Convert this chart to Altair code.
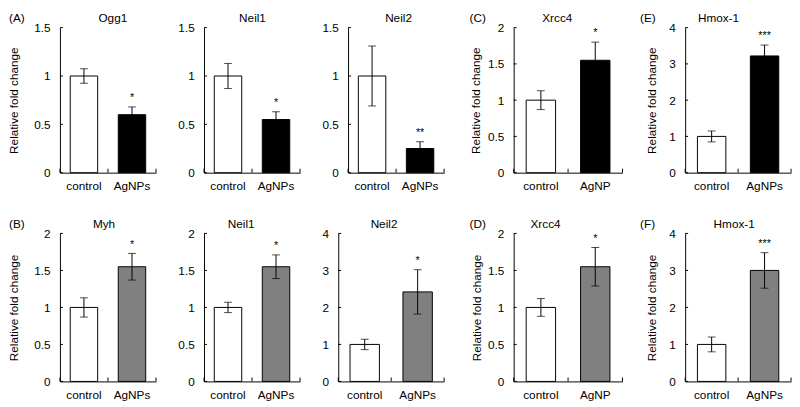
import altair as alt
import pandas as pd

FONT = "Liberation Sans"

# ---------------- data ----------------
genes = ["Ogg1", "Neil1", "Neil2", "Xrcc4", "Hmox-1",
         "Myh", "Neil1", "Neil2", "Xrcc4", "Hmox-1"]
panel_tags = ["(A)", "", "", "(C)", "(E)", "(B)", "", "", "(D)", "(F)"]
control_label = "control"
treat_labels = ["AgNPs", "AgNPs", "AgNPs", "AgNP", "AgNPs",
                "AgNPs", "AgNPs", "AgNPs", "AgNP", "AgNPs"]
control_mean = [1.0, 1.0, 1.0, 1.0, 1.0, 1.0, 1.0, 1.0, 1.0, 1.0]
control_err = [0.075, 0.13, 0.31, 0.13, 0.15, 0.13, 0.07, 0.14, 0.12, 0.20]
treat_mean = [0.60, 0.55, 0.25, 1.55, 3.22, 1.55, 1.55, 2.42, 1.55, 3.00]
treat_err = [0.08, 0.08, 0.07, 0.25, 0.30, 0.18, 0.16, 0.60, 0.26, 0.48]
stars = ["*", "*", "**", "*", "***", "*", "*", "*", "*", "***"]
y_ticks = [
    [0, 0.5, 1, 1.5], [0, 0.5, 1, 1.5], [0, 0.5, 1, 1.5],
    [0, 0.5, 1, 1.5, 2], [0, 1, 2, 3, 4],
    [0, 0.5, 1, 1.5, 2], [0, 0.5, 1, 1.5, 2], [0, 1, 2, 3, 4],
    [0, 0.5, 1, 1.5, 2], [0, 1, 2, 3, 4],
]
y_title = "Relative fold change"

# ---------------- layout (pixels) ----------------
heights = [148] * 5 + [151] * 5
widths = [98, 98, 98, 111, 108, 98, 98, 108, 111, 108]
bar_w = [28, 28, 28, 30, 29, 28, 28, 30, 30, 29]
title_x = [54, 49.5, 51.5, 44.5, 34, 45, 38, 46.7, 32.5, 50]
tag_x = [-52, 0, 0, -45, -46, -52, 0, 0, -45, -46]
ytitle_x = [-43, None, None, -34.5, -30.5, -43, None, None, -33.5, -30.5]
fill_treat = ["#000000"] * 5 + ["#808080"] * 5


def panel(i):
    w = widths[i]
    H = heights[i]
    df = pd.DataFrame({
        "group": [control_label, treat_labels[i]],
        "mean": [control_mean[i], treat_mean[i]],
        "lo": [control_mean[i] - control_err[i], treat_mean[i] - treat_err[i]],
        "hi": [control_mean[i] + control_err[i], treat_mean[i] + treat_err[i]],
        "star": ["", stars[i]],
    })
    yscale = alt.Scale(domain=[0, y_ticks[i][-1]], nice=False, zero=True)
    xscale = alt.Scale(paddingInner=0, paddingOuter=0)
    base = alt.Chart(df)

    x_axis = alt.Axis(title=None, labelAngle=0, ticks=False, tickSize=0,
                      labelPadding=8, domainColor="black", domainWidth=1,
                      labelFont=FONT, labelFontSize=12, labelColor="black")
    ykw = dict(values=y_ticks[i], format="~g", ticks=False, tickSize=0,
               labelPadding=10, domainColor="black", domainWidth=1, grid=False,
               labelFont=FONT, labelFontSize=12, labelColor="black")
    if ytitle_x[i] is not None:
        y_axis = alt.Axis(title=y_title, titleX=ytitle_x[i], titleY=H / 2,
                          titleAngle=270, titleAlign="center",
                          titleBaseline="alphabetic", titleFont=FONT,
                          titleFontSize=12, titleFontWeight="normal",
                          titleColor="black", **ykw)
    else:
        y_axis = alt.Axis(title=None, **ykw)

    # every layer shares exactly the same axis definition
    xe = alt.X("group:N", sort=None, scale=xscale, axis=x_axis)

    def ye(field):
        return alt.Y(field, scale=yscale, axis=y_axis)

    bars = base.mark_bar(size=bar_w[i], stroke="black", strokeWidth=1).encode(
        x=xe,
        y=ye("mean:Q"),
        fill=alt.condition(alt.datum.group == control_label,
                           alt.value("white"), alt.value(fill_treat[i])),
    )
    whisk = base.mark_rule(color="black", strokeWidth=1).encode(
        x=xe, y=ye("lo:Q"), y2="hi:Q")
    cap_hi = base.mark_tick(color="black", size=8, thickness=1).encode(
        x=xe, y=ye("hi:Q"))
    cap_lo = base.mark_tick(color="black", size=8, thickness=1).encode(
        x=xe, y=ye("lo:Q"))
    star = base.mark_text(font=FONT, fontSize=11, dy=-6, baseline="alphabetic",
                          color="black").encode(
        x=xe, y=ye("hi:Q"), text="star:N")

    # inward axis ticks
    yt = alt.Chart(pd.DataFrame({"v": y_ticks[i]})).mark_rule(
        color="black", strokeWidth=1).encode(
        y=ye("v:Q"), x=alt.value(0), x2=alt.value(3))
    xt = base.mark_rule(color="black", strokeWidth=1).encode(
        x=alt.X("group:N", sort=None, scale=xscale, axis=x_axis, bandPosition=0),
        y=alt.value(H), y2=alt.value(H - 4))
    xt_end = alt.Chart(pd.DataFrame({"t": [genes[i]]})).mark_rule(
        color="black", strokeWidth=1).encode(
        x=alt.value(w), y=alt.value(H), y2=alt.value(H - 4))

    title = alt.Chart(pd.DataFrame({"t": [genes[i]]})).mark_text(
        font=FONT, fontSize=12, align="center", baseline="alphabetic",
        color="black").encode(text="t:N", x=alt.value(title_x[i]), y=alt.value(-6))

    layers = [bars, whisk, cap_hi, cap_lo, yt, xt, xt_end, star, title]
    if panel_tags[i]:
        tag = alt.Chart(pd.DataFrame({"t": [panel_tags[i]]})).mark_text(
            font=FONT, fontSize=12, align="left", baseline="alphabetic",
            color="black").encode(text="t:N", x=alt.value(tag_x[i]), y=alt.value(-6))
        layers.append(tag)
    return alt.layer(*layers).properties(width=w, height=H)


P = [panel(i) for i in range(10)]
VS = 27
rowA = alt.hconcat(P[0], P[1], P[2], spacing=21)
rowB = alt.hconcat(P[5], P[6], P[7], spacing=21)
colAB = alt.vconcat(rowA, rowB, spacing=VS)
colCD = alt.vconcat(P[3], P[8], spacing=VS)
colEF = alt.vconcat(P[4], P[9], spacing=VS)

chart = alt.hconcat(
    alt.hconcat(colAB, colCD, spacing=25), colEF, spacing=17
).properties(padding=0, background="white").configure_view(strokeWidth=0)

chart.save("out.html", embed_options={"renderer": "svg", "actions": False})
